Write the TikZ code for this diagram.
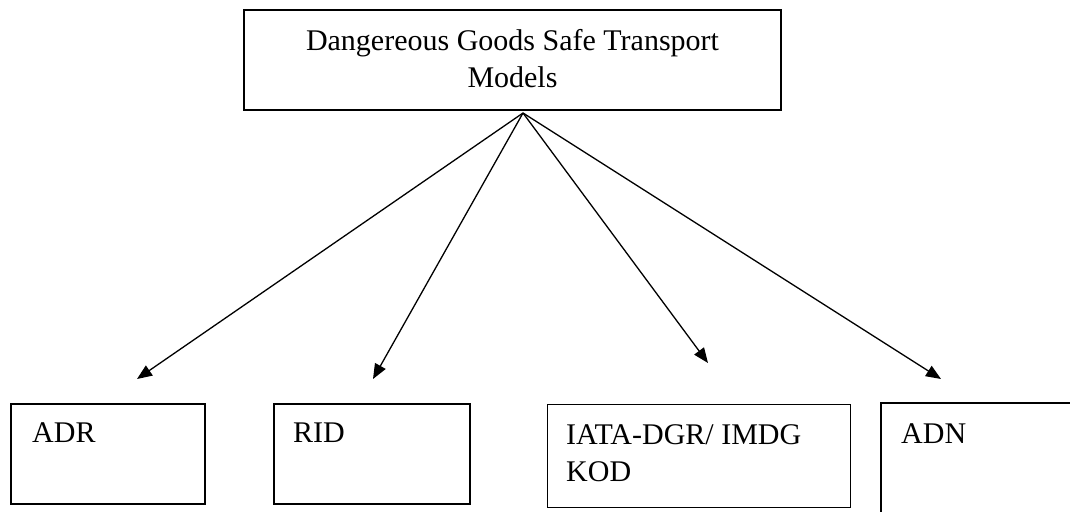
\documentclass[tikz,border=0pt]{standalone}
\usepackage{fontspec}
\setmainfont{Liberation Serif}
\usetikzlibrary{arrows.meta}
\begin{document}
\begin{tikzpicture}[x=1pt,y=-1pt,
  topbox/.style={draw, line width=2.6pt, minimum width=537pt, minimum height=100pt, inner sep=0pt},
  leafbox/.style={draw, line width=1.3pt, inner sep=0pt},
  lbl/.style={anchor=base west, inner sep=0pt, font=\fontsize{30}{37}\selectfont},
  conn/.style={line width=1.3pt, -{Triangle[length=15pt,width=12pt]}}]
\useasboundingbox (0,0) rectangle (1070,511);
\clip (0,0) rectangle (1070,511);
\node[topbox] (top) at (512.5,60) {};
\node[anchor=north, inner sep=0pt, align=center, font=\fontsize{30}{37}\selectfont] (toptxt) at (512.5,29) {Dangereous Goods Safe Transport\\Models};
\node[leafbox, minimum width=194pt, minimum height=100pt] (adr) at (108,454) {};
\node[leafbox, minimum width=196pt, minimum height=100pt] (rid) at (372,454) {};
\node[leafbox, minimum width=303pt, minimum height=103pt] (iata) at (699,456) {};
\node[leafbox, minimum width=220pt, minimum height=130pt] (adn) at (991,468) {};
\node[lbl] (adrt) at (32,442) {ADR};
\node[lbl] (ridt) at (293,442) {RID};
\node[lbl, align=left, anchor=north west] (iatat) at (566,424) {IATA-DGR/ IMDG\\KOD};
\node[lbl] (adnt) at (901,443) {ADN};
\coordinate (o) at (523,113);
\coordinate (t1) at (137,379);
\coordinate (t2) at (373,379);
\coordinate (t3) at (708,363);
\coordinate (t4) at (941,379);
\draw[conn] (o) -- (t1);
\draw[conn] (o) -- (t2);
\draw[conn] (o) -- (t3);
\draw[conn] (o) -- (t4);
\end{tikzpicture}
\end{document}
